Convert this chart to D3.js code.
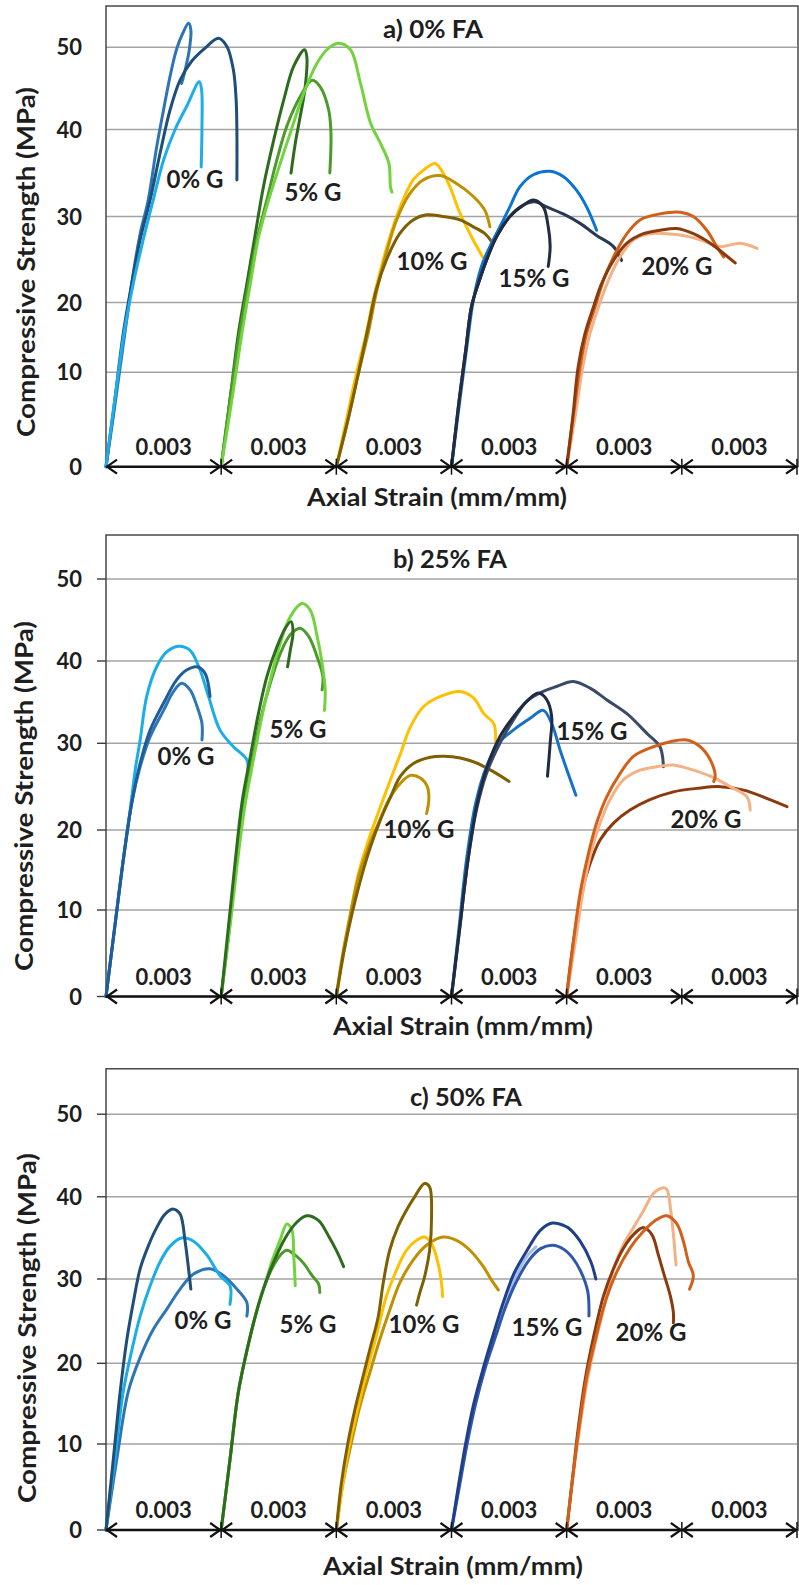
<!DOCTYPE html>
<html><head><meta charset="utf-8">
<script src="https://cdn.jsdelivr.net/npm/d3@7"></script>
<style>
body{margin:0;background:#fff}
svg{display:block}
text{font-family:Lato,"Open Sans",sans-serif;font-weight:700;fill:#1e1e1e}
</style>
</head><body>
<svg id="chart" width="799" height="1585"></svg>
<script>
// ---------------- DATA ----------------
const SHIFT = 0.003;                       // strain offset between mixes (mm/mm)
const shiftLabels = ["0.003","0.003","0.003","0.003","0.003","0.003"];
const yTicks = [0, 10, 20, 30, 40, 50];
const panelTitles = ["a) 0% FA", "b) 25% FA", "c) 50% FA"];
const groupLabels = ["0% G", "5% G", "10% G", "15% G", "20% G"];
const xTitle = "Axial Strain (mm/mm)";
const yTitle = "Compressive Strength (MPa)";

// curves: [strain x10^-3 (from specimen origin), stress MPa]
// ---- a) 0% FA ----
const fa0_g0 = [
  [[0,0],[0.19,5.3],[0.37,10.8],[0.54,17.5],[0.71,23.4],[0.89,28.0],[1.10,31.9],[1.32,38.0],[1.50,42.4],[1.67,46.5],[1.84,49.8],[2.0,51.7],[2.15,52.9],[2.21,52.1],[2.17,49.7],[2.06,47.2],[1.97,45.6]],
  [[0,0],[0.23,7.1],[0.45,15.6],[0.67,22.2],[0.89,27.3],[1.15,31.9],[1.41,37.3],[1.67,42.4],[1.93,46.0],[2.23,48.3],[2.58,49.9],[2.93,51.1],[3.15,50.1],[3.32,47.2],[3.39,43.6],[3.41,39.6],[3.41,34.2]],
  [[0,0],[0.23,7.1],[0.47,15.6],[0.71,22.2],[0.97,27.3],[1.23,31.9],[1.50,36.5],[1.80,40.0],[2.10,42.8],[2.43,45.8],[2.49,44.8],[2.50,40.4],[2.48,35.7]]
];
const fa0_g1 = [
  [[0,0],[0.23,7.1],[0.45,15.6],[0.67,22.2],[0.89,28.0],[1.10,33.4],[1.37,38.8],[1.63,43.6],[1.89,47.7],[2.17,49.7],[2.23,48.9],[2.19,45.2],[2.06,41.6],[1.93,38.4],[1.82,35.0]],
  [[0,0],[0.23,7.1],[0.48,15.6],[0.71,22.2],[0.93,27.3],[1.19,31.9],[1.45,36.5],[1.71,40.4],[2.06,44.0],[2.37,46.0],[2.58,45.2],[2.80,42.4],[2.86,39.6],[2.83,35.0]],
  [[0,0],[0.28,7.1],[0.54,15.6],[0.76,22.2],[0.97,27.5],[1.19,31.2],[1.45,34.9],[1.80,39.6],[2.15,44.4],[2.50,48.1],[2.80,49.9],[3.06,50.5],[3.37,49.7],[3.63,45.6],[3.89,40.8],[4.15,38.4],[4.37,36.1],[4.41,33.4],[4.45,32.8]]
];
const fa0_g2 = [
  [[0,0],[0.26,4.9],[0.52,9.8],[0.78,15.6],[0.96,20.3],[1.22,24.9],[1.48,28.8],[1.74,31.9],[2.0,34.2],[2.26,35.3],[2.57,36.1],[2.74,35.3],[2.96,33.4],[3.22,30.4],[3.48,28.0],[3.81,25.3]],
  [[0,0],[0.30,4.9],[0.57,9.8],[0.83,15.6],[1.04,21.1],[1.30,25.7],[1.57,29.6],[1.91,32.6],[2.26,34.2],[2.70,34.7],[3.13,33.8],[3.57,32.3],[3.87,30.7],[4.0,28.8]],
  [[0,0],[0.30,4.9],[0.57,9.8],[0.83,16.5],[1.04,21.5],[1.30,24.9],[1.65,28.0],[2.0,29.6],[2.35,30.2],[2.78,30.0],[3.22,29.6],[3.57,28.8],[3.87,28.0],[4.04,27.1]]
];
const fa0_g3 = [
  [[0,0],[0.22,7.1],[0.39,13.2],[0.57,20.3],[0.78,24.2],[1.0,26.5],[1.26,28.8],[1.52,31.1],[1.78,33.4],[2.13,34.8],[2.57,35.2],[2.91,34.6],[3.26,33.0],[3.52,31.1],[3.78,28.4]],
  [[0,0],[0.2,7.1],[0.37,13.2],[0.52,19.4],[0.70,22.2],[0.91,24.9],[1.17,27.6],[1.52,30.0],[1.87,31.3],[2.17,31.7],[2.48,31.1],[2.91,30.3],[3.35,29.2],[3.78,27.8],[4.22,26.5],[4.43,24.9]],
  [[0,0],[0.2,7.1],[0.37,13.2],[0.52,19.4],[0.70,22.2],[0.91,24.9],[1.17,27.6],[1.52,30.0],[1.87,31.3],[2.13,31.9],[2.39,31.1],[2.52,28.8],[2.57,26.5],[2.52,24.2]]
];
const fa0_g4 = [
  [[0,0],[0.22,5.3],[0.42,10.8],[0.61,15.6],[0.83,19.4],[1.09,22.6],[1.39,25.3],[1.74,27.3],[2.17,28.0],[2.61,28.0],[3.04,27.8],[3.48,27.3],[4.0,26.5],[4.52,26.9],[4.96,26.3]],
  [[0,0],[0.17,5.3],[0.35,10.8],[0.52,15.6],[0.74,19.4],[0.96,22.6],[1.22,25.3],[1.57,28.0],[1.91,29.6],[2.43,30.3],[2.96,30.5],[3.30,30.0],[3.65,28.4],[3.91,26.5],[4.09,25.3]],
  [[0,0],[0.16,5.3],[0.30,10.8],[0.48,15.6],[0.70,19.4],[0.91,22.2],[1.22,24.9],[1.57,26.9],[2.0,28.0],[2.43,28.4],[2.87,28.6],[3.30,28.0],[3.74,26.9],[4.09,25.7],[4.39,24.6]]
];
// ---- b) 25% FA ----
const fa25_g0 = [
  [[0,0],[0.23,8.1],[0.45,16.25],[0.63,22.3],[0.76,26.9],[0.89,30.4],[1.06,35.7],[1.32,39.3],[1.58,41.1],[1.89,41.8],[2.19,41.3],[2.45,38.9],[2.67,35.7],[2.97,31.6],[3.32,29.6],[3.67,28.1],[3.69,26.5]],
  [[0,0],[0.23,8.1],[0.45,16.25],[0.67,23.1],[0.89,27.3],[1.15,30.8],[1.50,34.0],[1.76,36.3],[1.97,37.3],[2.19,36.5],[2.37,34.5],[2.50,32.4],[2.50,30.4]],
  [[0,0],[0.23,8.1],[0.45,16.25],[0.67,23.1],[0.89,27.7],[1.15,31.6],[1.50,34.9],[1.84,37.7],[2.10,38.9],[2.37,39.3],[2.58,38.5],[2.71,35.7]]
];
const fa25_g1 = [
  [[0,0],[0.22,8.1],[0.41,16.25],[0.60,23.1],[0.83,28.5],[1.04,33.2],[1.28,37.3],[1.54,40.9],[1.80,43.2],[2.06,44.0],[2.28,43.0],[2.50,40.5],[2.65,38.1],[2.63,36.5]],
  [[0,0],[0.23,8.1],[0.43,16.25],[0.63,23.1],[0.84,28.1],[1.06,33.2],[1.28,37.7],[1.54,42.2],[1.80,45.4],[2.10,47.0],[2.32,46.2],[2.50,43.0],[2.63,39.7],[2.71,36.5],[2.69,34.0]],
  [[0,0],[0.19,8.1],[0.37,16.25],[0.54,23.1],[0.76,28.5],[0.97,33.6],[1.19,38.1],[1.45,41.7],[1.67,44.0],[1.82,44.8],[1.87,43.4],[1.80,41.3],[1.73,39.3]]
];
const fa25_g2 = [
  [[0,0],[0.19,5.0],[0.37,9.6],[0.58,14.6],[0.84,18.75],[1.15,22.7],[1.41,25.8],[1.67,28.8],[1.93,32.0],[2.28,34.5],[2.71,35.7],[3.23,36.3],[3.58,35.5],[3.84,33.6],[4.10,32.4],[4.15,30.2]],
  [[0,0],[0.17,5.0],[0.37,9.6],[0.58,14.2],[0.84,17.9],[1.10,20.8],[1.37,23.5],[1.67,25.4],[1.93,26.3],[2.19,26.0],[2.37,25.0],[2.41,23.5],[2.35,21.9]],
  [[0,0],[0.19,5.0],[0.41,9.6],[0.63,13.75],[0.89,17.9],[1.15,21.2],[1.41,23.8],[1.67,26.2],[2.02,27.7],[2.45,28.4],[2.80,28.5],[3.23,28.3],[3.67,27.7],[4.10,26.7],[4.50,25.6]]
];
const fa25_g3 = [
  [[0,0],[0.2,8.1],[0.39,16.25],[0.63,23.1],[0.91,27.3],[1.22,30.0],[1.61,31.6],[2.04,33.0],[2.39,34.0],[2.61,32.4],[2.83,29.2],[3.04,26.5],[3.24,24.0]],
  [[0,0],[0.22,8.1],[0.43,16.25],[0.65,22.3],[0.91,26.5],[1.26,30.0],[1.61,32.8],[1.96,35.1],[2.39,36.3],[2.74,36.9],[3.17,37.5],[3.61,36.7],[4.04,35.3],[4.57,33.6],[5.09,31.2],[5.43,29.6],[5.52,27.3]],
  [[0,0],[0.22,8.1],[0.43,16.25],[0.67,23.1],[0.96,27.7],[1.26,30.8],[1.61,33.2],[1.96,35.1],[2.26,36.1],[2.48,35.3],[2.61,33.2],[2.57,30.0],[2.50,26.2]]
];
const fa25_g4 = [
  [[0,0],[0.17,6.15],[0.39,12.1],[0.61,15.8],[0.87,18.75],[1.22,20.8],[1.65,22.3],[2.17,23.5],[2.78,24.4],[3.39,24.8],[4.0,25.0],[4.61,24.6],[5.13,23.8],[5.74,22.7]],
  [[0,0],[0.22,6.15],[0.42,12.1],[0.63,17.1],[0.87,20.8],[1.13,23.5],[1.48,25.8],[1.91,26.9],[2.35,27.3],[2.78,27.5],[3.30,26.9],[3.74,26.2],[4.26,25.0],[4.70,23.8],[4.78,22.3]],
  [[0,0],[0.17,6.15],[0.35,12.1],[0.57,17.1],[0.78,20.8],[1.04,23.8],[1.39,26.5],[1.74,28.5],[2.26,29.6],[2.70,30.2],[3.13,30.4],[3.48,29.6],[3.74,28.1],[3.87,26.2],[3.83,25.6]]
];
// ---- c) 50% FA ----
const fa50_g0 = [
  [[0,0],[0.28,8.2],[0.58,16.5],[0.89,20.7],[1.23,24.0],[1.58,26.4],[1.93,28.8],[2.28,30.6],[2.71,31.25],[3.06,30.4],[3.41,28.8],[3.67,27.2],[3.67,25.6]],
  [[0,0],[0.23,8.2],[0.45,16.5],[0.67,21.5],[0.89,25.6],[1.15,29.2],[1.41,32.1],[1.67,34.0],[1.97,35.0],[2.28,34.6],[2.63,32.9],[2.97,30.4],[3.23,29.2],[3.23,27.0]],
  [[0,0],[0.19,8.2],[0.37,16.5],[0.54,22.7],[0.71,27.2],[0.89,31.25],[1.10,34.0],[1.32,36.25],[1.54,37.9],[1.76,38.5],[1.93,37.9],[2.06,34.6],[2.15,31.25],[2.21,28.8]]
];
const fa50_g1 = [
  [[0,0],[0.23,8.2],[0.45,16.5],[0.67,21.5],[0.89,25.6],[1.10,28.8],[1.32,31.25],[1.54,32.9],[1.71,33.5],[1.93,32.9],[2.15,31.9],[2.37,30.4],[2.54,29.4],[2.57,28.4]],
  [[0,0],[0.23,8.2],[0.45,16.5],[0.67,21.5],[0.89,25.6],[1.10,28.8],[1.32,32.1],[1.54,34.8],[1.71,36.7],[1.84,36.0],[1.89,32.9],[1.93,29.2]],
  [[0,0],[0.23,8.2],[0.45,16.5],[0.67,21.5],[0.89,25.6],[1.10,28.8],[1.37,32.1],[1.67,35.0],[1.97,36.9],[2.23,37.7],[2.54,37.1],[2.80,35.2],[3.02,33.3],[3.19,31.5]]
];
const fa50_g2 = [
  [[0,0],[0.17,5.4],[0.39,10.1],[0.61,14.6],[0.87,18.8],[1.13,22.8],[1.39,26.3],[1.65,29.5],[2.0,32.3],[2.35,34.1],[2.78,35.1],[3.13,34.7],[3.48,33.5],[3.83,31.5],[4.04,29.9],[4.22,28.7]],
  [[0,0],[0.17,5.4],[0.35,10.1],[0.57,14.6],[0.78,18.8],[1.04,23.2],[1.30,27.9],[1.57,31.1],[1.83,33.5],[2.09,34.7],[2.30,35.1],[2.48,34.3],[2.65,31.9],[2.74,29.5],[2.77,27.9]],
  [[0,0],[0.13,5.4],[0.30,10.1],[0.48,14.2],[0.65,17.5],[0.87,21.6],[1.09,25.5],[1.22,29.5],[1.39,33.5],[1.61,36.4],[1.83,38.4],[2.04,40.0],[2.30,41.6],[2.43,41.2],[2.48,37.6],[2.43,33.5],[2.30,30.3],[2.17,28.3],[2.09,26.9]]
];
const fa50_g3 = [
  [[0,0],[0.2,5.4],[0.4,10.1],[0.6,15.0],[0.86,19.6],[1.12,23.4],[1.39,27.1],[1.65,30.1],[1.99,32.9],[2.2,33.9]],
  [[0,0],[0.22,5.4],[0.41,10.1],[0.63,15.0],[0.89,19.6],[1.15,23.2],[1.41,26.7],[1.67,29.5],[2.02,32.3],[2.32,33.7],[2.63,34.1],[2.93,33.6],[3.15,32.6],[3.37,30.9],[3.55,28.5],[3.58,25.6]],
  [[0,0],[0.19,5.4],[0.37,10.1],[0.58,15.0],[0.84,19.6],[1.10,23.6],[1.37,27.5],[1.63,30.7],[1.97,33.5],[2.32,35.95],[2.63,36.8],[2.93,36.5],[3.05,36.2],[3.35,34.6],[3.63,32.1],[3.76,30.0]]
];
const fa50_g4 = [
  [[0,0],[0.17,6.3],[0.35,12.3],[0.52,17.4],[0.74,22.3],[0.96,26.4],[1.22,31.25],[1.48,34.2],[1.74,36.25],[2.0,38.3],[2.26,40.4],[2.52,41.1],[2.61,40.9],[2.70,38.75],[2.78,35.4],[2.85,31.7]],
  [[0,0],[0.16,6.3],[0.31,12.3],[0.49,18.2],[0.70,23.1],[0.96,28.0],[1.22,31.25],[1.48,33.75],[1.74,35.4],[2.0,36.25],[2.22,35.4],[2.39,32.9],[2.52,30.8],[2.70,28.0],[2.78,26.0],[2.78,24.8]],
  [[0,0],[0.16,6.3],[0.33,12.3],[0.52,18.2],[0.74,22.7],[1.0,27.2],[1.30,30.8],[1.65,33.75],[2.0,35.8],[2.30,37.1],[2.61,37.7],[2.87,36.7],[3.04,34.6],[3.17,32.1],[3.30,30.4],[3.20,28.8]]
];

const panelData = [
  [fa0_g0, fa0_g1, fa0_g2, fa0_g3, fa0_g4],
  [fa25_g0, fa25_g1, fa25_g2, fa25_g3, fa25_g4],
  [fa50_g0, fa50_g1, fa50_g2, fa50_g3, fa50_g4]
];

// ---------------- STYLE / LAYOUT ----------------
const palettes = [
  [["#2E75B6","#1F4E79","#1DAEEA"], ["#2E6B1E","#4C9A2A","#72D33F"], ["#FFC000","#BF9000","#7F6000"], ["#0A74D1","#2A3A55","#222B3F"], ["#F4B183","#D2601A","#8B3A0E"]],
  [["#1AAEE8","#2E75B6","#1F5C99"], ["#4C9A2A","#72D33F","#2E6B1E"], ["#FFC000","#BF9000","#7F6000"], ["#1672C8","#3B4A66","#1F2B44"], ["#8B3A0E","#F4B183","#D2601A"]],
  [["#2E75B6","#1AAEE8","#1F4E79"], ["#4C9A2A","#72D33F","#2E6B1E"], ["#BF9000","#FFC000","#7F6000"], ["#A9BCE8","#3058A8","#203F8A"], ["#F4B183","#8B3A0E","#D2601A"]]
];
const layout = [
  {yr:[466.7,372.3,302.5,216.5,129.5,47.3,6], leftTicks:false, title:[433,30], titleW:100, xT:[437,498], yT:[27,262],
   gl:[[195,180],[313,193],[432,262],[534,279],[677,267]]},
  {yr:[996.5,910,830,743.3,661,579,535], leftTicks:true, title:[450,560], titleW:114, xT:[463,1027], yT:[25,796],
   gl:[[186,757],[298,730],[419,830],[592,732],[706,820]]},
  {yr:[1530,1444,1363.3,1279,1196.8,1114.2,1068.8], leftTicks:true, title:[466,1098], titleW:112, xT:[453,1567], yT:[28,1328],
   gl:[[203,1321],[308,1325],[424,1325],[547,1328],[651,1333]]}
];

const svg = d3.select("#chart");
const X0 = 106, X1 = 797;
const x = d3.scaleLinear().domain([0, 6 * SHIFT]).range([X0, X1]);

panelData.forEach((groups, pi) => {
  const L = layout[pi];
  const y = d3.scaleLinear().domain([0,10,20,30,40,50,55]).range(L.yr);
  const g = svg.append("g");
  const y0 = y(0), yTop = y(55);

  // gridlines
  g.selectAll(".grid").data(yTicks.filter(t => t > 0)).join("line")
    .attr("x1", X0).attr("x2", X1).attr("y1", d => y(d)).attr("y2", d => y(d))
    .attr("stroke", "#a3a3a3").attr("stroke-width", 1.4);

  // plot border
  g.append("rect").attr("x", X0).attr("y", yTop).attr("width", X1 - X0 + 1).attr("height", y0 - yTop)
    .attr("fill", "none").attr("stroke", "#3c3c3c").attr("stroke-width", 1.4);

  if (L.leftTicks) {
    g.selectAll(".lt").data(yTicks).join("line")
      .attr("x1", X0 - 9).attr("x2", X0).attr("y1", d => y(d)).attr("y2", d => y(d))
      .attr("stroke", "#3c3c3c").attr("stroke-width", 1.4);
  }

  // y tick labels
  g.selectAll(".yl").data(yTicks).join("text")
    .attr("x", 82).attr("y", d => y(d) + 8).attr("text-anchor", "end")
    .attr("font-size", 22).text(d => d);

  // curves
  const line = d3.line().x(d => d[0]).y(d => d[1]).curve(d3.curveCatmullRom.alpha(0.5));
  groups.forEach((curves, gi) => {
    curves.forEach((pts, ci) => {
      g.append("path")
        .attr("d", line(pts.map(p => [x(gi * SHIFT + p[0] / 1000), y(p[1])])))
        .attr("fill", "none").attr("stroke", palettes[pi][gi][ci])
        .attr("stroke-width", 3).attr("stroke-linejoin", "round").attr("stroke-linecap", "round");
    });
  });

  // x axis with double arrows
  g.append("line").attr("x1", X0).attr("x2", X1).attr("y1", y0).attr("y2", y0)
    .attr("stroke", "#111").attr("stroke-width", 2.6);
  shiftLabels.forEach((lab, i) => {
    const xa = x(i * SHIFT), xb = x((i + 1) * SHIFT);
    const ah = 11, aw = 7;
    g.append("polyline").attr("points", `${xa+ah},${y0-aw} ${xa+1},${y0} ${xa+ah},${y0+aw}`)
      .attr("fill", "none").attr("stroke", "#111").attr("stroke-width", 2.2);
    g.append("polyline").attr("points", `${xb-ah},${y0-aw} ${xb-1},${y0} ${xb-ah},${y0+aw}`)
      .attr("fill", "none").attr("stroke", "#111").attr("stroke-width", 2.2);
    g.append("line").attr("x1", xb).attr("x2", xb).attr("y1", y0 - 8).attr("y2", y0 + 8)
      .attr("stroke", "#111").attr("stroke-width", 1.5);
    g.append("text").attr("x", (xa + xb) / 2).attr("y", y0 - 12).attr("text-anchor", "middle")
      .attr("font-size", 22).text(lab);
  });

  // group labels
  groupLabels.forEach((lab, i) => {
    g.append("text").attr("x", L.gl[i][0]).attr("y", L.gl[i][1] + 8).attr("text-anchor", "middle")
      .attr("font-size", 24).text(lab);
  });

  // titles
  g.append("text").attr("x", L.title[0]).attr("y", L.title[1] + 8).attr("text-anchor", "middle")
    .attr("font-size", 24).attr("textLength", L.titleW).attr("lengthAdjust", "spacingAndGlyphs")
    .text(panelTitles[pi]);
  g.append("text").attr("x", L.xT[0]).attr("y", L.xT[1] + 8).attr("text-anchor", "middle")
    .attr("font-size", 24).attr("textLength", 260).attr("lengthAdjust", "spacingAndGlyphs").text(xTitle);
  g.append("text").attr("transform", `translate(${L.yT[0] + 8},${L.yT[1]}) rotate(-90)`)
    .attr("text-anchor", "middle").attr("font-size", 24)
    .attr("textLength", 350).attr("lengthAdjust", "spacingAndGlyphs").text(yTitle);
});
</script>
</body></html>
